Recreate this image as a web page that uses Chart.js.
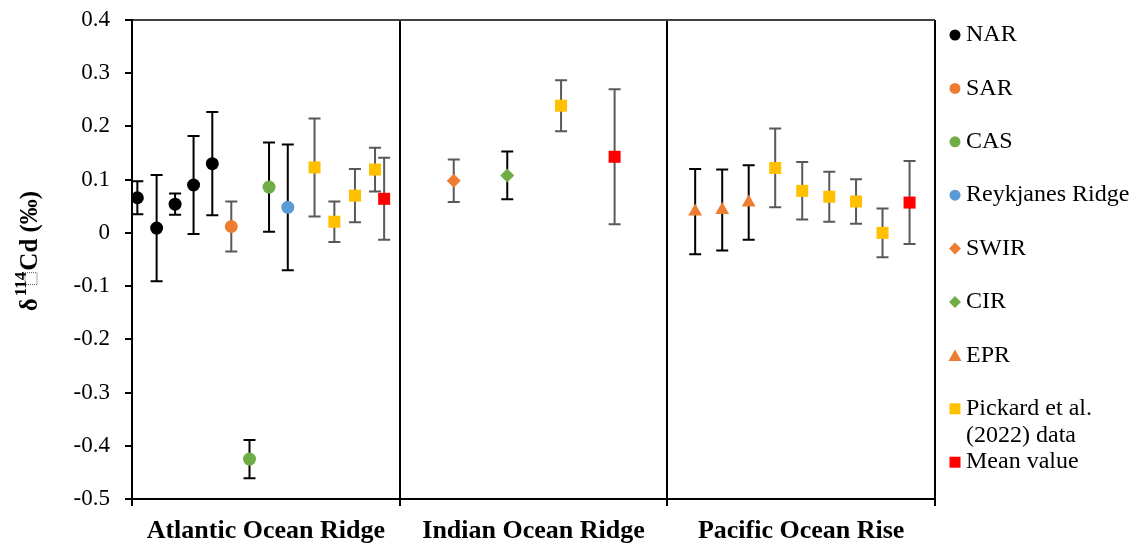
<!DOCTYPE html>
<html>
<head>
<meta charset="utf-8">
<script src="https://cdn.jsdelivr.net/npm/chart.js@4.4.1/dist/chart.umd.min.js"></script>
<style>
body { margin: 0; background: #fff; }
</style>
</head>
<body>
<canvas id="cdChart" width="1136" height="546"></canvas>
<script>
// ridge groups along the x axis (one unit each)
const regions = ["Atlantic Ocean Ridge", "Indian Ocean Ridge", "Pacific Ocean Rise"];
const regionCentres = [0.5, 1.5, 2.5];

// each series: x position inside its group, δ114Cd value, ± error
const narX = [0.02, 0.092, 0.161, 0.23, 0.30];
const narY = [0.066, 0.009, 0.054, 0.090, 0.130];
const narErr = [0.031, 0.100, 0.020, 0.092, 0.097];

const sarX = [0.371];
const sarY = [0.012];
const sarErr = [0.047];

const casX = [0.439, 0.512];
const casY = [-0.425, 0.086];
const casErr = [0.036, 0.084];

const reykX = [0.582];
const reykY = [0.048];
const reykErr = [0.118];

const swirX = [1.202];
const swirY = [0.098];
const swirErr = [0.040];

const cirX = [1.402];
const cirY = [0.108];
const cirErr = [0.045];

const eprX = [2.104, 2.205, 2.304];
const eprY = [0.040, 0.043, 0.057];
const eprErr = [0.080, 0.076, 0.070];

const pickardX = [0.682, 0.756, 0.833, 0.908, 1.603, 2.403, 2.504, 2.605, 2.705, 2.804];
const pickardY = [0.123, 0.021, 0.070, 0.119, 0.239, 0.122, 0.079, 0.068, 0.059, 0.000];
const pickardErr = [0.092, 0.038, 0.050, 0.041, 0.048, 0.074, 0.054, 0.047, 0.042, 0.046];

const meanX = [0.942, 1.803, 2.905];
const meanY = [0.064, 0.143, 0.057];
const meanErr = [0.077, 0.127, 0.078];

const BLACK = "#000000";
const GREY = "#595959";

function points(xs, ys) {
    return xs.map((x, i) => ({ x: x, y: ys[i] }));
}

function series(label, legendLines, xs, ys, errs, style, colour, radius, errColour) {
    return {
        label: label,
        legendLines: legendLines,
        data: points(xs, ys),
        errors: errs,
        errorColor: errColour,
        pointStyle: style,
        pointRadius: radius,
        pointBackgroundColor: colour,
        pointBorderWidth: 0,
        showLine: false
    };
}

const datasets = [
    series("NAR", ["NAR"], narX, narY, narErr, "circle", "#000000", 6.5, BLACK),
    series("SAR", ["SAR"], sarX, sarY, sarErr, "circle", "#ED7D31", 6.5, GREY),
    series("CAS", ["CAS"], casX, casY, casErr, "circle", "#70AD47", 6.5, BLACK),
    series("Reykjanes Ridge", ["Reykjanes Ridge"], reykX, reykY, reykErr, "circle", "#5B9BD5", 6.5, BLACK),
    series("SWIR", ["SWIR"], swirX, swirY, swirErr, "rectRot", "#ED7D31", 7, GREY),
    series("CIR", ["CIR"], cirX, cirY, cirErr, "rectRot", "#70AD47", 7, BLACK),
    series("EPR", ["EPR"], eprX, eprY, eprErr, "triangle", "#ED7D31", 8, BLACK),
    series("Pickard et al. (2022) data", ["Pickard et al.", "(2022) data"], pickardX, pickardY, pickardErr, "rect", "#FFC000", 8.5, GREY),
    series("Mean value", ["Mean value"], meanX, meanY, meanErr, "rect", "#FF0000", 8.5, GREY)
];

// vertical error bars with caps, drawn under the markers
const errorBars = {
    id: "errorBars",
    beforeDatasetsDraw(chart) {
        const ctx = chart.ctx;
        const xs = chart.scales.x;
        const ys = chart.scales.y;
        chart.data.datasets.forEach(ds => {
            ctx.save();
            ctx.strokeStyle = ds.errorColor;
            ctx.lineWidth = 2;
            ds.data.forEach((p, j) => {
                const e = ds.errors[j];
                const px = xs.getPixelForValue(p.x);
                const top = ys.getPixelForValue(p.y + e);
                const bot = ys.getPixelForValue(p.y - e);
                ctx.beginPath();
                ctx.moveTo(px, top);
                ctx.lineTo(px, bot);
                ctx.moveTo(px - 6, top);
                ctx.lineTo(px + 6, top);
                ctx.moveTo(px - 6, bot);
                ctx.lineTo(px + 6, bot);
                ctx.stroke();
            });
            ctx.restore();
        });
    }
};

function drawMarker(ctx, style, x, y, colour) {
    ctx.fillStyle = colour;
    ctx.beginPath();
    if (style === "circle") {
        ctx.arc(x, y, 5.5, 0, Math.PI * 2);
    } else if (style === "rect") {
        ctx.rect(x - 5.5, y - 5.5, 11, 11);
    } else if (style === "rectRot") {
        ctx.moveTo(x, y - 6);
        ctx.lineTo(x + 6, y);
        ctx.lineTo(x, y + 6);
        ctx.lineTo(x - 6, y);
        ctx.closePath();
    } else if (style === "triangle") {
        ctx.moveTo(x, y - 6);
        ctx.lineTo(x + 6.5, y + 5.5);
        ctx.lineTo(x - 6.5, y + 5.5);
        ctx.closePath();
    }
    ctx.fill();
}

// legend, group labels and y title
const decorations = {
    id: "decorations",
    afterDraw(chart) {
        const ctx = chart.ctx;
        const xs = chart.scales.x;
        const area = chart.chartArea;

        // legend on the right
        ctx.save();
        ctx.font = "24px 'Liberation Serif'";
        ctx.fillStyle = "#000";
        ctx.textAlign = "left";
        ctx.textBaseline = "middle";
        chart.data.datasets.forEach((ds, i) => {
            const y = 35 + i * 53.4;
            drawMarker(ctx, ds.pointStyle, area.right + 20, y, ds.pointBackgroundColor);
            ctx.fillStyle = "#000";
            ds.legendLines.forEach((line, k) => {
                ctx.fillText(line, area.right + 31, y + k * 27);
            });
        });
        ctx.restore();

        // group labels under the axis
        ctx.save();
        ctx.font = "bold 26px 'Liberation Serif'";
        ctx.fillStyle = "#000";
        ctx.textAlign = "center";
        ctx.textBaseline = "middle";
        regions.forEach((name, i) => {
            ctx.fillText(name, xs.getPixelForValue(regionCentres[i]), area.bottom + 32);
        });
        ctx.restore();

        // rotated y title: δ 114 Cd (‰)
        ctx.save();
        ctx.translate(37, 251);
        ctx.rotate(-Math.PI / 2);
        ctx.fillStyle = "#000";
        ctx.textBaseline = "alphabetic";
        ctx.textAlign = "left";
        const big = "bold 25px 'Liberation Serif'";
        const small = "bold 17px 'Liberation Serif'";
        ctx.font = big;
        const wDelta = ctx.measureText("δ").width;
        const wRest = ctx.measureText("Cd (‰)").width;
        ctx.font = small;
        const wSup = ctx.measureText("114").width;
        let x = -(wDelta + 2 + wSup + 1 + wRest) / 2;
        ctx.font = big;
        ctx.fillText("δ", x, 0);
        x += wDelta + 2;
        ctx.font = small;
        ctx.fillText("114", x, -11);
        // missing-glyph box under the superscript
        ctx.strokeStyle = "#555";
        ctx.lineWidth = 1;
        ctx.setLineDash([1, 1]);
        ctx.strokeRect(x + wSup - 13, -12, 12, 12);
        ctx.setLineDash([]);
        x += wSup + 1;
        ctx.font = big;
        ctx.fillText("Cd (‰)", x, 0);
        ctx.restore();
    }
};

let cdChart = null;

function loadCdChart() {

    const canvas = document.getElementById("cdChart");

    if (!canvas) return;

    Chart.defaults.font.family = "'Liberation Serif', 'Times New Roman', serif";
    Chart.defaults.color = "#000";

    cdChart = new Chart(canvas, {
        type: "scatter",
        data: { datasets: datasets },
        plugins: [errorBars, decorations],
        options: {
            responsive: false,
            animation: false,
            events: [],
            layout: {
                padding: { top: 20, right: 201, left: 0, bottom: 0 }
            },
            plugins: {
                legend: { display: false },
                tooltip: { enabled: false }
            },
            scales: {
                x: {
                    type: "linear",
                    min: 0,
                    max: 3,
                    ticks: { stepSize: 1, display: false },
                    grid: {
                        color: c => (c.tick && c.tick.value === 0) ? "transparent" : "#000",
                        lineWidth: 2,
                        tickLength: 7,
                        tickColor: "#000"
                    },
                    border: { color: "#000", width: 2 },
                    afterFit: s => {
                        s.height = 47;
                        s.paddingLeft = 0;
                        s.paddingRight = 0;
                    }
                },
                y: {
                    min: -0.5,
                    max: 0.4,
                    ticks: {
                        stepSize: 0.1,
                        padding: 15,
                        color: "#000",
                        font: { size: 23 },
                        callback: v => Math.abs(v) < 1e-9 ? "0" : v.toFixed(1)
                    },
                    grid: {
                        color: c => (c.tick && Math.abs(c.tick.value - 0.4) < 1e-6) ? "#404040" : "transparent",
                        lineWidth: 2,
                        tickLength: 7,
                        tickColor: "#000"
                    },
                    border: { color: "#000", width: 2 },
                    afterFit: s => {
                        s.width = 132;
                        s.paddingTop = 0;
                        s.paddingBottom = 0;
                    }
                }
            }
        }
    });
}

window.onload = function () {
    loadCdChart();
};
</script>
</body>
</html>
